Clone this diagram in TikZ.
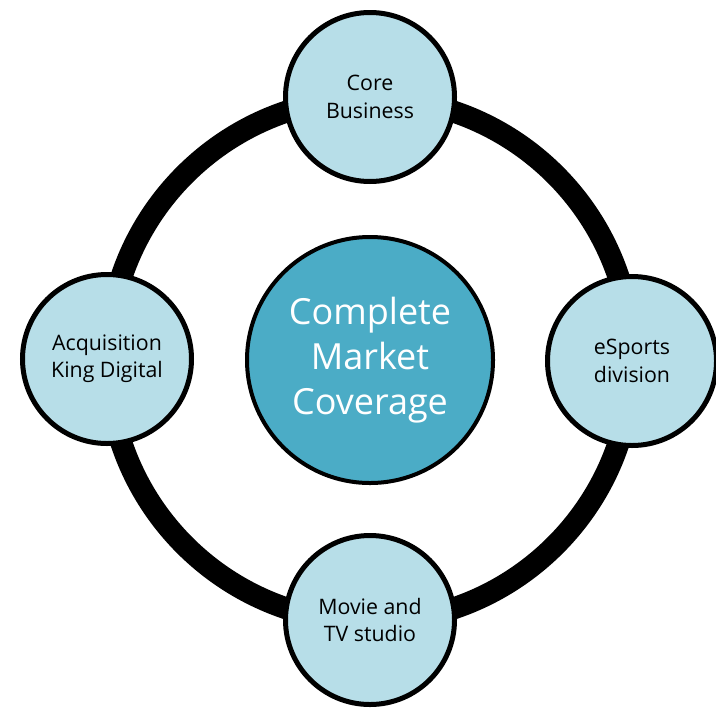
\documentclass[tikz,border=0pt]{standalone}
\usepackage{fontspec}
\setmainfont{Open Sans}
\definecolor{lightblue}{HTML}{B7DEE8}
\definecolor{midblue}{HTML}{4BACC6}
\begin{document}
\begin{tikzpicture}[x=0.75pt,y=-0.75pt,
  satellite/.style={circle,draw=black,line width=3.75pt,fill=lightblue,
    minimum size=126.75pt,inner sep=0pt,align=center,
    font=\fontsize{16}{20.5}\selectfont},
  hub/.style={circle,draw=black,line width=3pt,fill=midblue,
    minimum size=184.5pt,inner sep=0pt,align=center,text=white,
    font=\fontsize{27}{33.5}\selectfont}]
\useasboundingbox (0,0) rectangle (716,707);
% thick ring linking the four satellites
\coordinate (c) at (370,360);
\draw[line width=16.5pt] (c) circle[radius=196.5pt];
% centre
\node[hub] (core) at (c) {Complete\\Market\\Coverage};
% satellites
\node[satellite] (top) at (370,97) {Core\\Business};
\node[satellite] (left) at (107,359) {Acquisition\\King Digital};
\node[satellite] (right) at (632,361) {eSports\\division};
\node[satellite] (bottom) at (370,620) {Movie and\\TV studio};
\end{tikzpicture}
\end{document}
